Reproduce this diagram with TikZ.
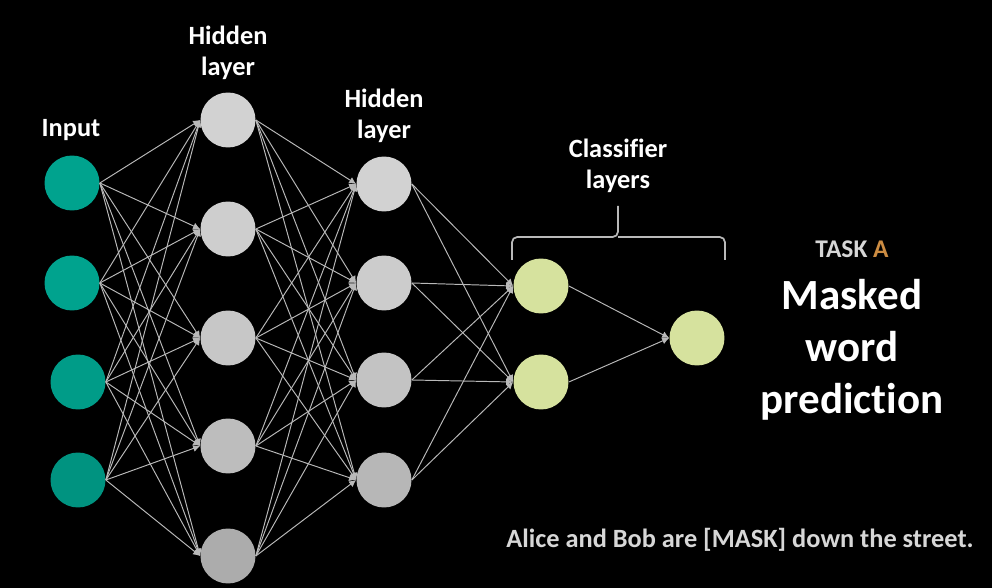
\documentclass[tikz,border=0pt]{standalone}
\usepackage{fontspec}
\setmainfont{Carlito}[Ligatures=NoCommon]
\usetikzlibrary{arrows.meta}
\definecolor{inteal}{RGB}{0,163,142}
\definecolor{hidgray}{RGB}{210,210,210}
\definecolor{clsgreen}{RGB}{214,226,158}
\definecolor{wiregray}{RGB}{185,185,185}
\definecolor{taskorange}{RGB}{204,140,66}
\tikzset{
	neuron/.style={circle, minimum size=1.1cm, inner sep=0pt},
	wire/.style={draw=wiregray, line width=0.55pt, -{Latex[length=4pt,width=4pt]}},
	lbl/.style={text=white, font=\bfseries\fontsize{15}{18}\selectfont, align=center}
}

\begin{document}
\begin{tikzpicture}[x=0.02cm, y=-0.02cm]
		%%%%% START %%%%%
		
		\fill[black] (0, 0) rectangle (992, 588);
		\useasboundingbox (0, 0) rectangle (992, 588);
		
		% input layer
		\node[neuron, fill=inteal] (in1) at (72, 183) {};
		\node[neuron, fill=inteal] (in2) at (72, 283) {};
		\node[neuron, fill=inteal!96!black] (in3) at (78, 382) {};
		\node[neuron, fill=inteal!90!black] (in4) at (78, 480) {};
		
		% first hidden layer
		\foreach \i/\y/\s in {1/120/100, 2/229/98, 3/338/95, 4/446/90, 5/556/82}
			\node[neuron, fill=hidgray!\s!black] (hA\i) at (228, \y) {};
		
		% second hidden layer
		\foreach \i/\y/\s in {1/184/100, 2/283/97, 3/380/93, 4/480/87}
			\node[neuron, fill=hidgray!\s!black] (hB\i) at (384, \y) {};
		
		% classifier layers
		\node[neuron, fill=clsgreen] (c1) at (541, 286) {};
		\node[neuron, fill=clsgreen] (c2) at (541, 382) {};
		\node[neuron, fill=clsgreen] (out) at (697, 338) {};
		
		% connections
		\foreach \a in {1,...,4}
			\foreach \b in {1,...,5}
				\draw[wire] (in\a.east) -- (hA\b.west);
		\foreach \a in {1,...,5}
			\foreach \b in {1,...,4}
				\draw[wire] (hA\a.east) -- (hB\b.west);
		\foreach \a in {1,...,4}
			\foreach \b in {1,2}
				\draw[wire] (hB\a.east) -- (c\b.west);
		\draw[wire] (c1.east) -- (out.west);
		\draw[wire] (c2.east) -- (out.west);
		
		% labels
		\node[lbl] (inlbl) at (71, 130) {Input};
		\node[lbl] (hAlbl) at (228, 53) {Hidden\\layer};
		\node[lbl] (hBlbl) at (384, 116) {Hidden\\layer};
		\node[lbl] (clslbl) at (618, 166) {Classifier\\layers};
		
		% brace over the classifier layers
		\coordinate (brtip) at (618, 237);
		\draw[draw=wiregray, line width=1pt, rounded corners=3pt]
			(512, 260) |- (brtip) -- (618, 206);
		\draw[draw=wiregray, line width=1pt, rounded corners=3pt]
			(725, 260) |- (brtip);
		
		\node[text=hidgray!92, font=\bfseries\fontsize{14.5}{16}\selectfont] (task) at (852, 249)
			{TASK {\color{taskorange}A}};
		\node[text=white, font=\bfseries\fontsize{24.5}{29.5}\selectfont, align=center] (title) at (852, 350)
			{Masked\\word\\prediction};
		\node[text=hidgray!88, font=\bfseries\fontsize{15}{16}\selectfont] (sentence) at (740, 540)
			{Alice and Bob are [MASK] down the street.};
		
		%%%%% END %%%%%
	\end{tikzpicture}
\end{document}
